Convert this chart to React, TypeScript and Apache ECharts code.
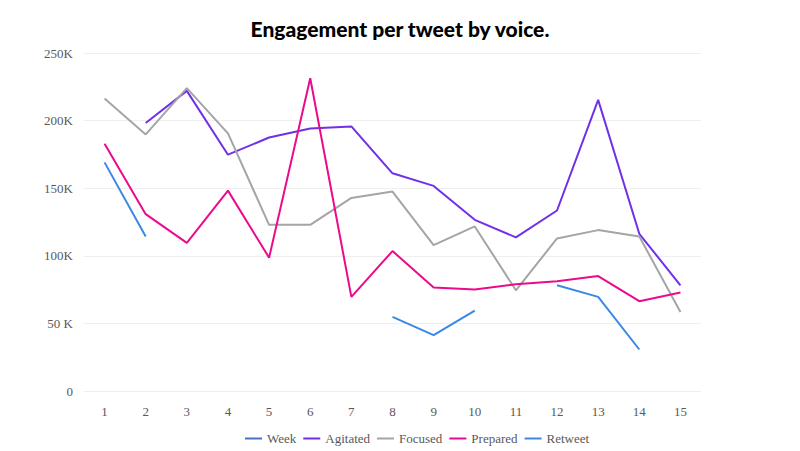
import React, { useEffect, useRef } from "react";
import * as echarts from "echarts";

const weeks = ["1", "2", "3", "4", "5", "6", "7", "8", "9", "10", "11", "12", "13", "14", "15"];
const week: (number | null)[] = [null, null, null, null, null, null, null, null, null, null, null, null, null, null, null];
const agitated: (number | null)[] = [null, 198200, 222000, 174800, 187500, 194200, 195700, 161000, 151700, 126600, 113600, 133500, 215300, 116300, 78200];
const focused: (number | null)[] = [216300, 189800, 224000, 190500, 122900, 122900, 142800, 147500, 107900, 121700, 74500, 112800, 119000, 114300, 58500];
const prepared: (number | null)[] = [182900, 130800, 109600, 148200, 98600, 231300, 69600, 103500, 76500, 75000, 78900, 81100, 85000, 66400, 72800];
const retweet: (number | null)[] = [169100, 114300, null, null, null, null, null, 54800, 41300, 59500, null, 78200, 69600, 30700, null];
const yTickLabels: Record<number, string> = { 0: "0", 50000: "50 K", 100000: "100K", 150000: "150K", 200000: "200K", 250000: "250K" };

const seriesDefs = [
  { name: "Week", data: week, color: "#4472c4" },
  { name: "Agitated", data: agitated, color: "#7030e8" },
  { name: "Focused", data: focused, color: "#a5a5a5" },
  { name: "Prepared", data: prepared, color: "#ec0a8c" },
  { name: "Retweet", data: retweet, color: "#3a88e6" },
];

const serif = "'Liberation Serif', 'DejaVu Serif', serif";

export default function App() {
  const ref = useRef<HTMLDivElement>(null);
  useEffect(() => {
    if (!ref.current) return;
    const chart = echarts.init(ref.current, undefined, { renderer: "svg" });
    chart.setOption({
      animation: false,
      backgroundColor: "#ffffff",
      title: {
        text: "Engagement per tweet by voice.",
        left: "center",
        top: 13,
        textStyle: { fontFamily: "Lato", fontWeight: 900, fontSize: 21, color: "#000000" },
      },
      legend: {
        bottom: 1,
        left: 240,
        icon: "rect",
        itemWidth: 17,
        itemHeight: 2,
        itemGap: 7,
        textStyle: { fontFamily: serif, fontSize: 13, color: "#595959" },
        data: seriesDefs.map((s) => s.name),
      },
      grid: { left: 84, right: 99, top: 53, bottom: 60 },
      xAxis: {
        type: "category",
        data: weeks,
        boundaryGap: true,
        axisLine: { show: false },
        axisTick: { show: false },
        axisLabel: { fontFamily: serif, fontSize: 13, color: "#595959", margin: 14 },
      },
      yAxis: {
        type: "value",
        min: 0,
        max: 250000,
        interval: 50000,
        axisLine: { show: false },
        axisTick: { show: false },
        splitLine: { lineStyle: { color: "#efefef", width: 1 } },
        axisLabel: {
          fontFamily: serif,
          fontSize: 13,
          color: "#595959",
          margin: 11,
          formatter: (v: number) => yTickLabels[v] ?? String(v),
        },
      },
      series: seriesDefs.map((s) => ({
        name: s.name,
        type: "line",
        data: s.data,
        symbol: "none",
        connectNulls: false,
        color: s.color,
        lineStyle: { color: s.color, width: 2 },
      })),
    });
    return () => chart.dispose();
  }, []);
  return <div ref={ref} style={{ position: "fixed", left: 0, top: 0, width: 800, height: 451 }} />;
}
